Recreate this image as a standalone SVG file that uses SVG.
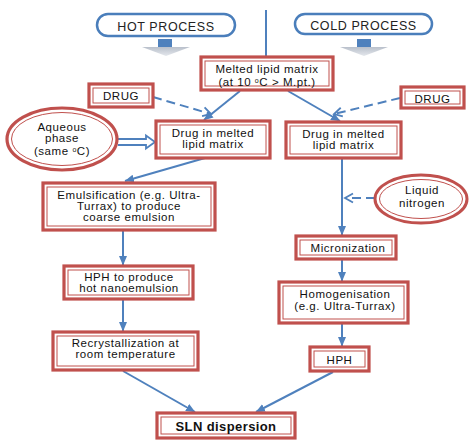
<svg xmlns="http://www.w3.org/2000/svg" width="474" height="448" viewBox="0 0 474 448">
<defs>
<style>
.box{fill:#fff;stroke:#c0504d;stroke-width:3.2}
.inner{fill:none;stroke:#c0504d;stroke-width:1}
.pill{fill:#fff;stroke:#4a7ebb;stroke-width:2.5}
.t{font-family:"Liberation Sans",Arial,sans-serif;font-size:11.5px;letter-spacing:0.55px;fill:#111;text-anchor:middle}
.tb{font-family:"Liberation Sans",Arial,sans-serif;font-size:13px;font-weight:bold;letter-spacing:0.4px;fill:#111;text-anchor:middle}
.tp{font-family:"Liberation Sans",Arial,sans-serif;font-size:12.5px;letter-spacing:0.6px;fill:#222;text-anchor:middle}
.c{fill:none;stroke:#4f81bd;stroke-width:2}
.d{fill:none;stroke:#4f81bd;stroke-width:2;stroke-dasharray:9,5}
.sup{font-size:7px}
</style>
<marker id="ah" markerUnits="userSpaceOnUse" markerWidth="10" markerHeight="10" viewBox="0 0 10 10" refX="9" refY="5" orient="auto">
<path d="M0,1 L9.5,5 L0,9 z" fill="#4f81bd"/>
</marker>
<marker id="oh" markerUnits="userSpaceOnUse" markerWidth="12" markerHeight="12" viewBox="0 0 12 12" refX="10" refY="6" orient="auto">
<path d="M2,1.5 L10,6 L2,10.5" fill="none" stroke="#4f81bd" stroke-width="1.8"/>
</marker>
<linearGradient id="chev" x1="0" y1="0" x2="0" y2="1">
<stop offset="0" stop-color="#b9c0cb"/>
<stop offset="1" stop-color="#e4e7ec"/>
</linearGradient>
</defs>

<g id="connectors">
<line class="c" x1="266" y1="10" x2="266" y2="56"/>
<g id="hot-arrow">
<rect x="158" y="39" width="14" height="9" fill="#4f81bd"/>
<polygon points="142,47 190,47 166,56" fill="url(#chev)"/>
</g>
<g id="cold-arrow">
<rect x="357" y="39" width="14" height="9" fill="#4f81bd"/>
<polygon points="340,47 388,47 364,56" fill="url(#chev)"/>
</g>
<line class="c" x1="240" y1="91" x2="204" y2="120" marker-end="url(#ah)"/>
<line class="c" x1="288" y1="91" x2="340" y2="121" marker-end="url(#ah)"/>
<line class="d" x1="153" y1="97" x2="211" y2="114" marker-end="url(#oh)"/>
<line class="d" x1="400" y1="98" x2="334" y2="114" marker-end="url(#oh)"/>
<path d="M118,139 L146,139 L146,135.5 L155,142 L146,148.5 L146,145 L118,145" fill="#fff" stroke="#4f81bd" stroke-width="1.8"/>
<line class="c" x1="205" y1="158" x2="125" y2="181" marker-end="url(#ah)"/>
<line class="c" x1="123" y1="231" x2="123" y2="265" marker-end="url(#ah)"/>
<line class="c" x1="123" y1="300" x2="123" y2="331" marker-end="url(#ah)"/>
<line class="c" x1="123" y1="371" x2="195" y2="412" marker-end="url(#ah)"/>
<line class="c" x1="342" y1="159" x2="342" y2="235" marker-end="url(#ah)"/>
<line class="d" x1="375" y1="198" x2="345" y2="198" marker-end="url(#oh)"/>
<line class="c" x1="342" y1="260" x2="342" y2="281" marker-end="url(#ah)"/>
<line class="c" x1="342" y1="324" x2="342" y2="346" marker-end="url(#ah)"/>
<line class="c" x1="333" y1="372" x2="256" y2="412" marker-end="url(#ah)"/>
</g>

<g id="hot-process">
<rect class="pill" x="97" y="14" width="138" height="22" rx="11"/>
<text class="tp" x="166" y="30.5">HOT PROCESS</text>
</g>
<g id="cold-process">
<rect class="pill" x="295" y="14" width="137" height="20" rx="10"/>
<text class="tp" x="363.5" y="29.5">COLD PROCESS</text>
</g>

<g id="melted">
<rect class="box" x="201" y="57" width="132" height="33"/>
<rect class="inner" x="205" y="61" width="124" height="25"/>
<text class="t" x="267" y="72.5">Melted lipid matrix</text>
<text class="t" x="267" y="86">(at 10 <tspan class="sup" dy="-3">o</tspan><tspan dy="3">C &gt; M.pt.)</tspan></text>
</g>

<g id="drug-left">
<rect class="box" x="89" y="84" width="64" height="23"/>
<rect class="inner" x="93" y="88" width="56" height="15"/>
<text class="t" x="121" y="100">DRUG</text>
</g>

<g id="drug-right">
<rect class="box" x="401" y="87" width="63" height="21"/>
<rect class="inner" x="405" y="91" width="55" height="13"/>
<text class="t" x="432.5" y="102.5">DRUG</text>
</g>

<g id="aqueous">
<ellipse cx="62" cy="139" rx="55" ry="31" fill="#fff" stroke="#c0504d" stroke-width="3.2"/>
<ellipse cx="62" cy="139" rx="50.5" ry="26.5" fill="none" stroke="#c0504d" stroke-width="1"/>
<text class="t" x="62" y="131">Aqueous</text>
<text class="t" x="62" y="142">phase</text>
<text class="t" x="62" y="154.5">(same <tspan class="sup" dy="-3">o</tspan><tspan dy="3">C)</tspan></text>
</g>

<g id="drug-melted-left">
<rect class="box" x="156" y="121" width="114" height="37"/>
<rect class="inner" x="160" y="125" width="106" height="29"/>
<text class="t" x="213" y="137">Drug in melted</text>
<text class="t" x="213" y="148">lipid matrix</text>
</g>

<g id="drug-melted-right">
<rect class="box" x="286" y="122" width="115" height="36"/>
<rect class="inner" x="290" y="126" width="107" height="28"/>
<text class="t" x="343.5" y="138">Drug in melted</text>
<text class="t" x="343.5" y="149">lipid matrix</text>
</g>

<g id="liquid-nitrogen">
<ellipse cx="421" cy="199" rx="46" ry="24" fill="#fff" stroke="#c0504d" stroke-width="3"/>
<ellipse cx="421" cy="199" rx="41.5" ry="19.5" fill="none" stroke="#c0504d" stroke-width="1"/>
<text class="t" x="422" y="194">Liquid</text>
<text class="t" x="422" y="207">nitrogen</text>
</g>

<g id="emulsification">
<rect class="box" x="43" y="183" width="172" height="47"/>
<rect class="inner" x="47" y="187" width="164" height="39"/>
<text class="t" x="129" y="199">Emulsification (e.g. Ultra-</text>
<text class="t" x="129" y="210">Turrax) to produce</text>
<text class="t" x="129" y="220.5">coarse emulsion</text>
</g>

<g id="hph-hot">
<rect class="box" x="64" y="266" width="129" height="33"/>
<rect class="inner" x="68" y="270" width="121" height="25"/>
<text class="t" x="129" y="281">HPH to produce</text>
<text class="t" x="129" y="292">hot nanoemulsion</text>
</g>

<g id="recrystallization">
<rect class="box" x="53" y="332" width="145" height="38"/>
<rect class="inner" x="57" y="336" width="137" height="30"/>
<text class="t" x="125.5" y="347">Recrystallization at</text>
<text class="t" x="125.5" y="357.5">room temperature</text>
</g>

<g id="micronization">
<rect class="box" x="296" y="236" width="100" height="23"/>
<rect class="inner" x="300" y="240" width="92" height="15"/>
<text class="t" x="348" y="251.5">Micronization</text>
</g>

<g id="homogenisation">
<rect class="box" x="279" y="282" width="129" height="41"/>
<rect class="inner" x="283" y="286" width="121" height="33"/>
<text class="t" x="345" y="297.5">Homogenisation</text>
<text class="t" x="345" y="309.5">(e.g. Ultra-Turrax)</text>
</g>

<g id="hph-cold">
<rect class="box" x="310" y="347" width="59" height="24"/>
<rect class="inner" x="314" y="351" width="51" height="16"/>
<text class="t" x="339.5" y="363.5">HPH</text>
</g>

<g id="sln">
<rect class="box" x="157" y="413" width="138" height="25"/>
<rect class="inner" x="161" y="417" width="130" height="17"/>
<text class="tb" x="226" y="430.5">SLN dispersion</text>
</g>
</svg>
